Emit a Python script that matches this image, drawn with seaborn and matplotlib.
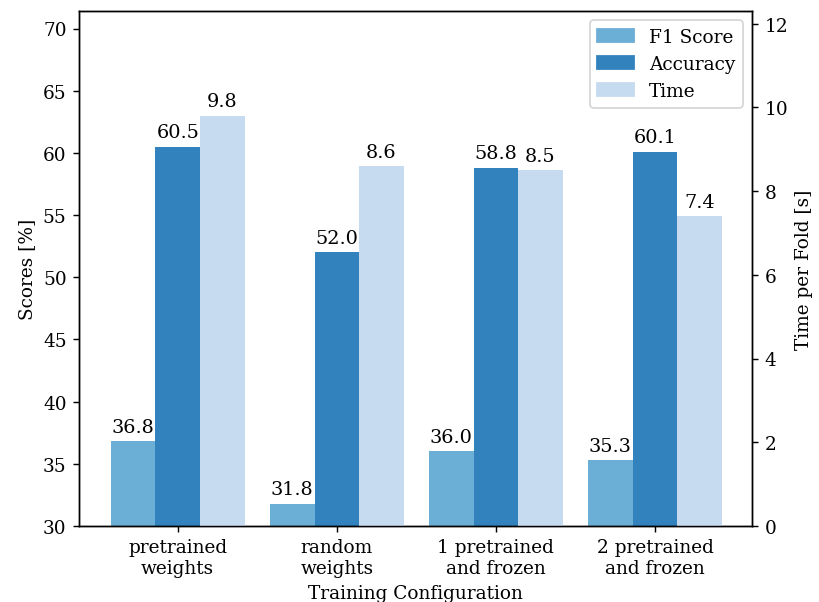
import numpy as np
import pandas as pd
import matplotlib
matplotlib.use("Agg")
import matplotlib.pyplot as plt
from matplotlib.patches import Patch
import seaborn as sns

# ── Data ────────────────────────────────────────────────────────────────────
configs = ["pretrained\nweights", "random\nweights",
           "1 pretrained\nand frozen", "2 pretrained\nand frozen"]
f1_scores = [36.8, 31.8, 36.0, 35.3]
accuracy = [60.5, 52.0, 58.8, 60.1]
time_per_fold = [9.8, 8.6, 8.5, 7.4]

metrics = ["F1 Score", "Accuracy", "Time"]
palette = {"F1 Score": "#6baed6", "Accuracy": "#3182bd", "Time": "#c6dbef"}

scores_df = pd.DataFrame({
    "Config": configs * 2,
    "Metric": ["F1 Score"] * 4 + ["Accuracy"] * 4,
    "Value": f1_scores + accuracy,
})
time_df = pd.DataFrame({"Config": configs, "Metric": ["Time"] * 4, "Value": time_per_fold})

plt.rcParams["font.family"] = ["DejaVu Serif"]
fs = 10.4

fig, ax = plt.subplots(figsize=(6.4, 4.71), dpi=128)
ax2 = ax.twinx()

# dodge=True so both axes share the same 3-slot layout per group
sns.barplot(data=scores_df, x="Config", y="Value", hue="Metric", hue_order=metrics,
            palette=palette, width=0.84, order=configs, ax=ax, legend=False,
            saturation=1, errorbar=None, dodge=True)
sns.barplot(data=time_df, x="Config", y="Value", hue="Metric", hue_order=metrics,
            palette=palette, width=0.84, order=configs, ax=ax2, legend=False,
            saturation=1, errorbar=None, dodge=True)

for c in ax.containers:
    ax.bar_label(c, fmt="%.1f", padding=3, fontsize=10.8)
for c in ax2.containers:
    ax2.bar_label(c, fmt="%.1f", padding=3, fontsize=10.8)

ax.set_ylim(30, 71.4)
ax2.set_ylim(0, 12.3)
ax.set_xlim(-0.62, 3.61)

ax.set_xlabel("Training Configuration", fontsize=fs)
ax.set_ylabel("Scores [%]", fontsize=fs)
ax2.set_ylabel("Time per Fold [s]", fontsize=fs)
ax.tick_params(labelsize=fs)
ax2.tick_params(labelsize=fs)

handles = [Patch(color=palette[m], label=m) for m in metrics]
ax2.legend(handles=handles, loc="upper right", fontsize=fs)

fig.subplots_adjust(left=0.0965, right=0.918, top=0.98, bottom=0.126)
plt.savefig("out.png", dpi=128)
plt.close()
